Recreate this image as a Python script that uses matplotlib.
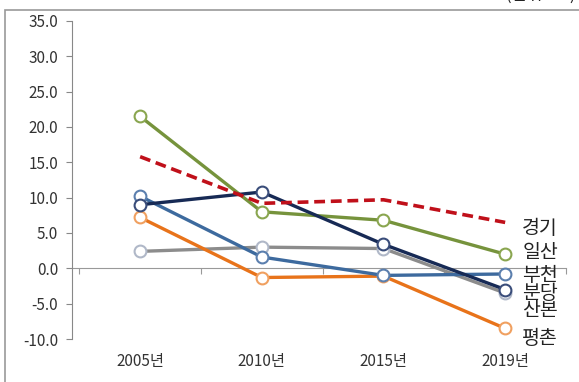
import matplotlib.pyplot as plt
from matplotlib.patches import Rectangle

plt.rcParams['font.family'] = ['Noto Sans CJK KR', 'DejaVu Sans']

years = ['2005년', '2010년', '2015년', '2019년']

gyeonggi = [15.8, 9.2, 9.7, 6.5]
ilsan = [21.5, 8.0, 6.8, 2.0]
bucheon = [10.2, 1.6, -1.0, -0.8]
bundang = [9.0, 10.8, 3.4, -3.0]
sanbon = [2.4, 3.0, 2.8, -3.5]
pyeongchon = [7.2, -1.3, -1.1, -8.5]

names = ['경기', '일산', '부천', '분당', '산본', '평촌']
label_y = [5.7, 2.3, -1.0, -3.5, -5.9, -9.9]

fig = plt.figure(figsize=(5.79, 3.82), dpi=100)
ax = fig.add_axes([72/579, 1 - 339/382, (566 - 72)/579, (339 - 21)/382])

x = range(len(years))
mk = dict(marker='o', markersize=8.5, markerfacecolor='white', markeredgewidth=1.5, lw=2.4)

ax.plot(x, sanbon, color='#8c8c8c', markeredgecolor='#b0b8c8', **mk)
ax.plot(x, pyeongchon, color='#e8731a', markeredgecolor='#f0a060', **mk)
ax.plot(x, bucheon, color='#3d6a9e', markeredgecolor='#5b7fae', **mk)
ax.plot(x, ilsan, color='#76933c', markeredgecolor='#8aa650', **mk)
ax.plot(x, bundang, color='#172a55', markeredgecolor='#3a4d7a', **mk)
ax.plot(x, gyeonggi, color='#c0101a', lw=2.6, ls=(0, (3, 1.6)))

for name, yv in zip(names, label_y):
    ax.text(3.14, yv, name, fontsize=14, color='#222222', va='center', ha='left')

ax.set_xlim(-0.56, 3.5)
ax.set_ylim(-10, 35)
ax.set_yticks(range(-10, 36, 5))
ax.set_yticklabels([f'{v:.1f}' for v in range(-10, 36, 5)])
ax.set_xticks(list(x))
ax.set_xticklabels(years)
ax.tick_params(axis='x', length=0, pad=10, labelsize=11, labelcolor='#333333')
ax.tick_params(axis='y', length=4, color='#888888', labelsize=11, labelcolor='#333333', pad=6)

for s in ['top', 'right', 'bottom']:
    ax.spines[s].set_visible(False)
ax.spines['left'].set_color('#888888')

# category axis drawn through zero
sec = ax.secondary_xaxis(10/45)
sec.set_xticks([-0.5, 0.5, 1.5, 2.5, 3.5])
sec.set_xticklabels([])
sec.tick_params(length=4, color='#999999', direction='out')
sec.spines['bottom'].set_color('#999999')

fig.patches.append(Rectangle((5/579, -0.1), 1.2, 1.1 - 10/382, transform=fig.transFigure,
                             fill=False, edgecolor='#999999', lw=1.2))
fig.text(575/579, 1 + 5/382, '(단위 : %)', ha='right', va='center', fontsize=12, color='#222222')

fig.savefig('out.png', dpi=100)
